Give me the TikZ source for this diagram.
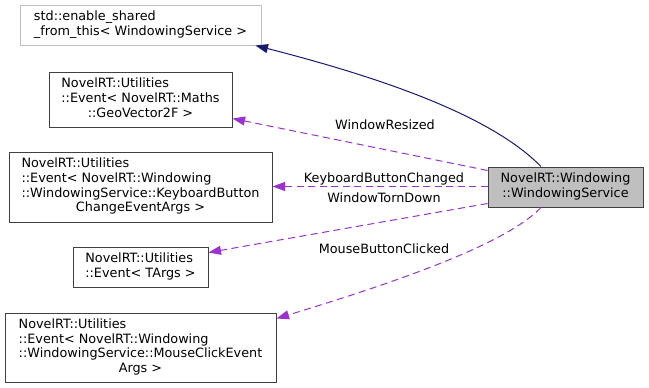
\documentclass[tikz,border=0pt]{standalone}
\usepackage{fontspec}
\setmainfont{DejaVu Sans}
\usetikzlibrary{arrows.meta,calc}
\definecolor{grey25}{HTML}{404040}
\definecolor{grey75}{HTML}{BFBFBF}
\definecolor{edgeblue}{HTML}{191970}
\definecolor{edgepurple}{HTML}{9A32CD}
\begin{document}
\begin{tikzpicture}[x=1pt,y=-1pt,
  font=\fontsize{12.8}{14.7}\selectfont,
  box/.style={draw=grey25,line width=1pt,fill=white,inner sep=0pt,align=center},
  extbox/.style={box,draw=grey75},
  mainbox/.style={box,fill=grey75},
  usage/.style={edgepurple,dash pattern=on 7pt off 4.5pt,line width=1pt,
    -{Triangle[length=12.5pt,width=9pt]}},
  inherit/.style={edgeblue,line width=1pt,-{Triangle[length=12.5pt,width=9pt]}},
  lbl/.style={inner sep=0pt}]
\useasboundingbox (0,0) rectangle (649,388);

% class nodes
\node[extbox,minimum width=241pt,minimum height=40pt] (std) at (140.5,25)
  {\begin{tabular}{@{}l@{}}std::enable\_shared\\\_from\_this< WindowingService >\end{tabular}};
\node[box,minimum width=183pt,minimum height=55pt] (geo) at (140.5,99.5)
  {\begin{tabular}{@{}l@{}}NovelRT::Utilities\\::Event< NovelRT::Maths\\\multicolumn{1}{@{}c@{}}{::GeoVector2F >}\end{tabular}};
\node[box,minimum width=263pt,minimum height=70pt] (kb) at (140.5,187)
  {\begin{tabular}{@{}l@{}}NovelRT::Utilities\\::Event< NovelRT::Windowing\\::WindowingService::KeyboardButton\\\multicolumn{1}{@{}c@{}}{ChangeEventArgs >}\end{tabular}};
\node[box,minimum width=135pt,minimum height=40pt] (targs) at (140.5,267)
  {\begin{tabular}{@{}l@{}}NovelRT::Utilities\\\multicolumn{1}{@{}c@{}}{::Event< TArgs >}\end{tabular}};
\node[box,minimum width=271pt,minimum height=69pt] (mouse) at (140.5,347.5)
  {\begin{tabular}{@{}l@{}}NovelRT::Utilities\\::Event< NovelRT::Windowing\\::WindowingService::MouseClickEvent\\\multicolumn{1}{@{}c@{}}{Args >}\end{tabular}};
\node[mainbox,minimum width=155pt,minimum height=40pt] (ws) at (565.5,187)
  {\begin{tabular}{@{}l@{}}NovelRT::Windowing\\\multicolumn{1}{@{}c@{}}{::WindowingService}\end{tabular}};

% connectors (yshift is in page direction: positive = up)
\draw[inherit] ([xshift=-24.5pt]ws.north) .. controls (505,130) and (430,90) .. ([xshift=-6pt]std.south east);
\draw[usage] ([yshift=-4pt]ws.north west) -- ([yshift=9pt]geo.south east);
\draw[usage] ([yshift=0.5pt]ws.west) -- ([yshift=0.5pt]kb.east);
\draw[usage] ([yshift=4pt]ws.south west) -- ([yshift=-6pt]targs.north east);
\draw[usage] ([xshift=-24.5pt]ws.south) .. controls (510,240) and (420,275) .. ([yshift=-6pt]mouse.north east);

% connector labels
\node[lbl] (lres) at (385,125) {WindowResized};
\node[lbl] (lkb) at (384,179) {KeyboardButtonChanged};
\node[lbl] (ltorn) at (384,198) {WindowTornDown};
\node[lbl] (lmouse) at (384,249) {MouseButtonClicked};
\end{tikzpicture}
\end{document}
